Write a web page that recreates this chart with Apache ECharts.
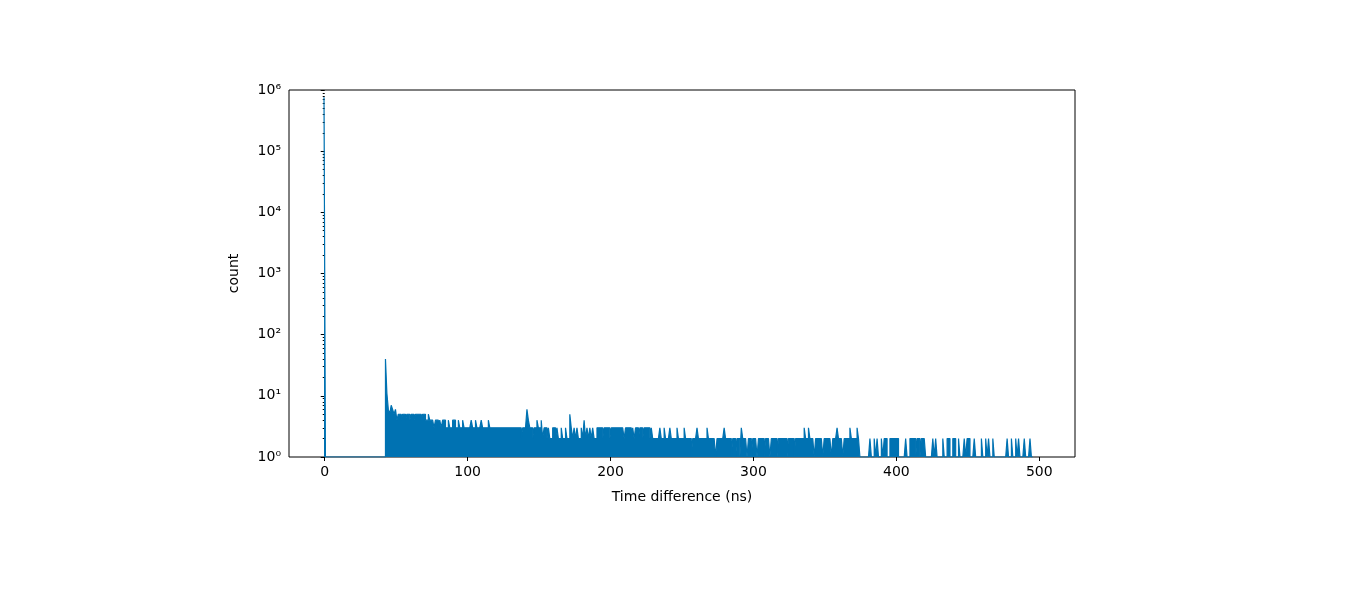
<!DOCTYPE html>
<html><head><meta charset="utf-8">
<script src="https://cdn.jsdelivr.net/npm/echarts@6/dist/echarts.min.js"></script>
<style>html,body{margin:0;background:#fff}#c{width:1366px;height:593px}</style>
</head><body><div id="c"></div>
<script>
// bin width 1 ns; counts at bin 0 and from 43 ns to 495 ns
const peakBin = 0;
const peakCount = 760000;
const tailStart = 43;
const tailCounts = [
40,11,6,5,7,6,5,6,4,5, 5,4,5,5,4,5,5,4,5,5, 4,5,5,5,5,4,5,5,4,4,
5,4,4,4,3,4,4,3,4,3, 4,4,3,3,4,3,3,4,4,3, 3,4,3,3,4,3,3,3,3,3,
4,3,3,4,3,3,3,4,3,3, 3,3,4,3,3,3,3,3,3,3, 3,3,3,3,3,3,3,3,3,3,
3,3,3,3,3,2,3,3,3,6, 4,3,3,2,3,3,4,3,3,4, 2,3,3,2,3,2,2,3,3,2,
3,2,2,3,2,2,3,2,2,5, 3,2,3,2,3,2,2,3,2,4, 2,3,2,3,2,3,2,2,3,3,
3,3,2,3,3,3,3,2,3,3, 3,3,3,3,3,3,3,2,3,3, 3,3,2,3,2,3,3,2,3,3,
2,3,3,3,3,2,3,2,2,2, 2,2,3,2,2,3,2,2,2,3, 2,2,2,2,3,2,2,2,2,3,
2,2,2,2,1,2,2,2,3,2, 2,2,2,2,2,3,2,2,2,2, 2,1,2,2,2,2,2,3,2,2,
2,2,1,2,2,1,2,2,1,3, 2,2,2,1,2,2,1,2,2,2, 1,2,2,2,2,1,2,2,2,1,
2,2,2,2,1,2,2,2,2,2, 2,1,2,2,2,2,1,2,2,2, 2,2,2,3,2,2,3,2,2,2,
1,2,2,2,2,2,1,2,2,2, 2,2,1,2,2,2,3,2,2,2, 1,2,2,2,2,3,2,2,2,2,
3,2,1,1,1,1,1,1,1,2, 1,1,2,1,2,1,1,2,1,2, 2,1,1,2,2,2,2,2,2,1,
1,1,1,1,2,1,1,2,2,2, 2,1,2,2,1,2,2,2,1,1, 1,1,1,2,1,2,1,1,1,1,
2,1,1,2,2,1,1,2,2,1, 1,2,1,1,1,2,1,2,2,1, 1,1,2,1,1,1,1,2,1,1,
2,1,2,1,1,2,1,1,1,1, 1,1,1,1,1,2,1,1,2,1, 1,2,1,2,1,1,1,2,1,1,
1,2,1
];
const xTicks = [0,100,200,300,400,500];
const yTicks = [1,10,100,1000,10000,100000,1000000];

const pts = [];
const nBins = tailStart + tailCounts.length;
for (let i = 0; i < nBins; i++) {
  let c = 1;
  if (i === peakBin) c = peakCount;
  else if (i >= tailStart) c = tailCounts[i - tailStart];
  pts.push([i - 0.5, c]);
}
pts.push([nBins - 0.5, 1]);

const sup = {'0':'⁰','1':'¹','2':'²','3':'³','4':'⁴','5':'⁵','6':'⁶'};
const chart = echarts.init(document.getElementById('c'));
chart.setOption({
  animation:false,
  grid:{left:289,right:291,top:90,bottom:136,show:true,borderColor:'#000',borderWidth:1,backgroundColor:'transparent'},
  xAxis:{type:'value',min:-25,max:525,
    name:'Time difference (ns)',nameLocation:'middle',nameGap:33,
    nameTextStyle:{fontFamily:'DejaVu Sans',fontSize:14,color:'#000'},
    axisLine:{show:false},splitLine:{show:false},
    axisTick:{show:true,customValues:xTicks,length:4,inside:false,lineStyle:{color:'#000'}},
    axisLabel:{customValues:xTicks,fontFamily:'DejaVu Sans',fontSize:14,color:'#000',margin:8}},
  yAxis:{type:'log',logBase:10,min:1,max:1000000,
    name:'count',nameLocation:'middle',nameGap:48,
    nameTextStyle:{fontFamily:'DejaVu Sans',fontSize:14,color:'#000'},
    axisLine:{show:false},splitLine:{show:false},
    axisTick:{show:true,customValues:yTicks,length:4,lineStyle:{color:'#000'}},
    minorTick:{show:true,splitNumber:9,length:2,lineStyle:{color:'#000'}},
    axisLabel:{customValues:yTicks,fontFamily:'DejaVu Sans',fontSize:14,color:'#000',margin:8,
      formatter:v=>'10'+sup[String(Math.round(Math.log10(v)))]}},
  series:[{type:'line',data:pts,step:'end',symbol:'none',
    lineStyle:{color:'#0072b2',width:1.2},
    areaStyle:{color:'#0072b2',opacity:1,origin:'start'}}]
});
</script></body></html>
